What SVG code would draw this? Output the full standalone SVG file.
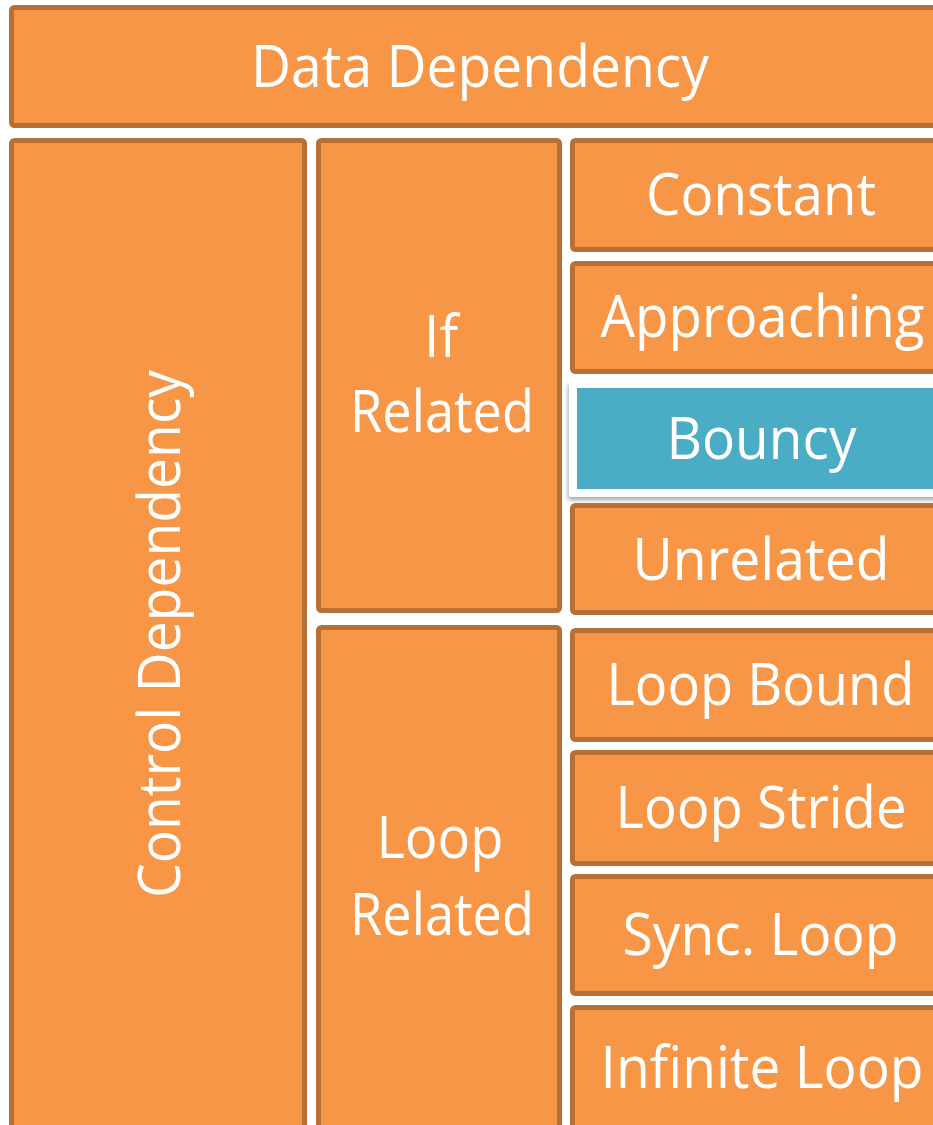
<svg xmlns="http://www.w3.org/2000/svg" width="933" height="1125" viewBox="0 0 933 1125">
  <defs>
    <style>
      .box { fill: #F79646; stroke: #B86F35; stroke-width: 5; }
      .lbl { fill: #FFFFFF; font-family: "Open Sans", "Noto Sans", sans-serif; font-size: 58px; text-anchor: middle; }
      .hl-frame { fill: #FFFFFF; }
      .hl { fill: #4BACC6; }
    </style>
    <filter id="shadow" x="-5%" y="-10%" width="110%" height="130%">
      <feDropShadow dx="-1" dy="3" stdDeviation="2" flood-color="#000000" flood-opacity="0.35"/>
    </filter>
  </defs>

  <rect width="933" height="1125" fill="#FFFFFF"/>

  <g id="data-dependency">
    <rect class="box" x="11.5" y="7.5" width="940" height="118" rx="3"/>
    <text class="lbl" x="480" y="87" textLength="458" lengthAdjust="spacingAndGlyphs">Data Dependency</text>
  </g>

  <g id="control-dependency">
    <rect class="box" x="11.5" y="140.5" width="293" height="1000" rx="3"/>
    <text class="lbl" transform="translate(180 634) rotate(-90)" x="0" y="0" textLength="528" lengthAdjust="spacingAndGlyphs">Control Dependency</text>
  </g>

  <g id="if-related">
    <rect class="box" x="318.5" y="140.5" width="241" height="470" rx="3"/>
    <text class="lbl" x="441" y="357" textLength="34" lengthAdjust="spacingAndGlyphs">If</text>
    <text class="lbl" x="442" y="432" textLength="184" lengthAdjust="spacingAndGlyphs">Related</text>
  </g>

  <g id="loop-related">
    <rect class="box" x="318.5" y="627.5" width="241" height="520" rx="3"/>
    <text class="lbl" x="440" y="858" textLength="127" lengthAdjust="spacingAndGlyphs">Loop</text>
    <text class="lbl" x="442" y="935" textLength="184" lengthAdjust="spacingAndGlyphs">Related</text>
  </g>

  <g id="constant">
    <rect class="box" x="572.5" y="140.5" width="400" height="109" rx="3"/>
    <text class="lbl" x="761" y="215" textLength="230" lengthAdjust="spacingAndGlyphs">Constant</text>
  </g>

  <g id="approaching">
    <rect class="box" x="572.5" y="263.5" width="400" height="108" rx="3"/>
    <text class="lbl" x="762.5" y="337" textLength="324" lengthAdjust="spacingAndGlyphs">Approaching</text>
  </g>

  <g id="bouncy">
    <rect class="hl-frame" x="569" y="381" width="400" height="116" rx="3" filter="url(#shadow)"/>
    <rect class="hl" x="577" y="388" width="400" height="101"/>
    <text class="lbl" x="761.5" y="459" textLength="190" lengthAdjust="spacingAndGlyphs">Bouncy</text>
  </g>

  <g id="unrelated">
    <rect class="box" x="572.5" y="505.5" width="400" height="107" rx="3"/>
    <text class="lbl" x="761" y="580" textLength="257" lengthAdjust="spacingAndGlyphs">Unrelated</text>
  </g>

  <g id="loop-bound">
    <rect class="box" x="572.5" y="630.5" width="400" height="109" rx="3"/>
    <text class="lbl" x="760.5" y="705" textLength="308" lengthAdjust="spacingAndGlyphs">Loop Bound</text>
  </g>

  <g id="loop-stride">
    <rect class="box" x="572.5" y="752.5" width="400" height="111" rx="3"/>
    <text class="lbl" x="761" y="828" textLength="291" lengthAdjust="spacingAndGlyphs">Loop Stride</text>
  </g>

  <g id="sync-loop">
    <rect class="box" x="572.5" y="876.5" width="400" height="117" rx="3"/>
    <text class="lbl" x="760.5" y="955" textLength="276" lengthAdjust="spacingAndGlyphs">Sync. Loop</text>
  </g>

  <g id="infinite-loop">
    <rect class="box" x="572.5" y="1007.5" width="400" height="200" rx="3"/>
    <text class="lbl" x="762" y="1088" textLength="323" lengthAdjust="spacingAndGlyphs">Infinite Loop</text>
  </g>

  <g id="connectors"></g>
</svg>
